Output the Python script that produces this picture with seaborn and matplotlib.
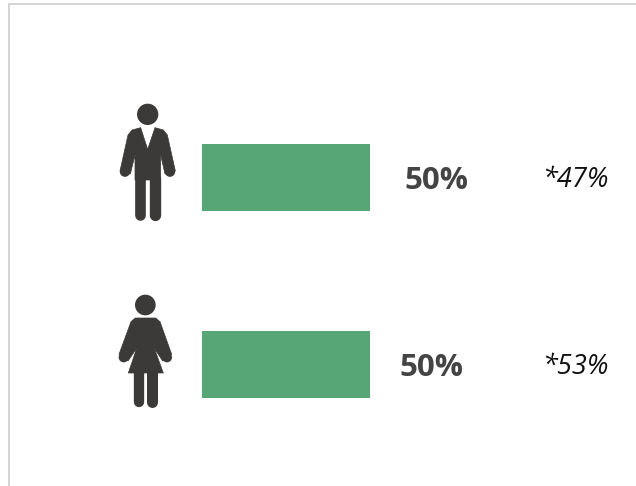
import matplotlib
matplotlib.use("Agg")
import matplotlib.pyplot as plt
from matplotlib.patches import Circle, Polygon
import pandas as pd
import seaborn as sns

W, H = 636, 486

# datos del grafico
groups = ["Hombres", "Mujeres"]
shares = [50, 50]
share_labels = ["50%", "50%"]
reference_labels = ["*47%", "*53%"]

sns.set_theme(style="white")
plt.rcParams["font.family"] = ["Open Sans", "DejaVu Sans"]

df = pd.DataFrame({"group": groups, "share": shares})

fig = plt.figure(figsize=(W / 100, H / 100), dpi=100, facecolor="white")


def box(x0, y0, x1, y1):
    # caja en pixeles de la imagen (origen arriba a la izquierda)
    return [x0 / W, 1 - y1 / H, (x1 - x0) / W, (y1 - y0) / H]


# barras: 0-100 ocupa 336 px, las filas estan separadas 187 px
ax = fig.add_axes(box(201.5, 84, 537.5, 458))
sns.barplot(data=df, x="share", y="group", color="#56A775", saturation=1, width=0.358,
            linewidth=0, ax=ax)
ax.set_xlim(0, 100)
ax.set_ylim(1.5, -0.5)
ax.axis("off")

# capa en pixeles para marco, iconos y textos
ov = fig.add_axes([0, 0, 1, 1], zorder=5)
ov.set_xlim(0, W)
ov.set_ylim(H, 0)
ov.axis("off")
ov.patch.set_alpha(0)

ov.plot([8.5, 8.5, W], [H, 4.5, 4.5], color="#C9C9C9", lw=1.1, solid_joinstyle="miter")

ICON = "#3B3A39"


def icon_shapes(ox, oy, polys, circles, legs):
    # coordenadas tomadas del recorte ampliado x3
    for pts in polys:
        ov.add_patch(Polygon([(ox + x / 3, oy + y / 3) for x, y in pts], closed=True,
                             fc=ICON, ec=ICON, lw=0.5, joinstyle="round"))
    for cx, cy, r in circles:
        ov.add_patch(Circle((ox + cx / 3, oy + cy / 3), r / 3, fc=ICON, ec="none"))
    for x, y0, y1, w in legs:
        ov.plot([ox + x / 3] * 2, [oy + y0 / 3, oy + y1 / 3], color=ICON,
                lw=w / 3 * 0.72, solid_capstyle="round")


# hombre
icon_shapes(
    100, 90,
    polys=[
        [(122, 113), (143, 178), (165, 113), (190, 120), (202, 135), (226, 243), (195, 252),
         (182, 195), (182, 270), (105, 270), (105, 195), (91, 252), (60, 243), (84, 135), (96, 120)],
    ],
    circles=[(143, 73, 32), (75, 245, 15.5), (210, 245, 15.5)],
    legs=[(121, 265, 375, 32), (165, 265, 375, 34)],
)

# mujer
icon_shapes(
    100, 285,
    polys=[
        [(106, 99), (167, 99), (180, 110), (215, 208), (188, 228), (163, 190), (190, 264),
         (85, 264), (110, 190), (84, 228), (57, 208), (93, 110)],
    ],
    circles=[(136, 60, 31), (71, 217, 15), (201, 217, 15)],
    legs=[(118, 258, 351, 31), (156, 258, 351, 33)],
)

# etiquetas
label_x = [404, 399]
for y, lab, ref, lx in zip([181, 368], share_labels, reference_labels, label_x):
    ov.text(lx, y, lab, fontsize=22.5, fontweight="bold", color="#444444", ha="left", va="center")
    ov.text(542, y - 1, ref, fontsize=19.5, fontstyle="italic", color="#111111", ha="left", va="center")

fig.savefig("out.png", dpi=100)
